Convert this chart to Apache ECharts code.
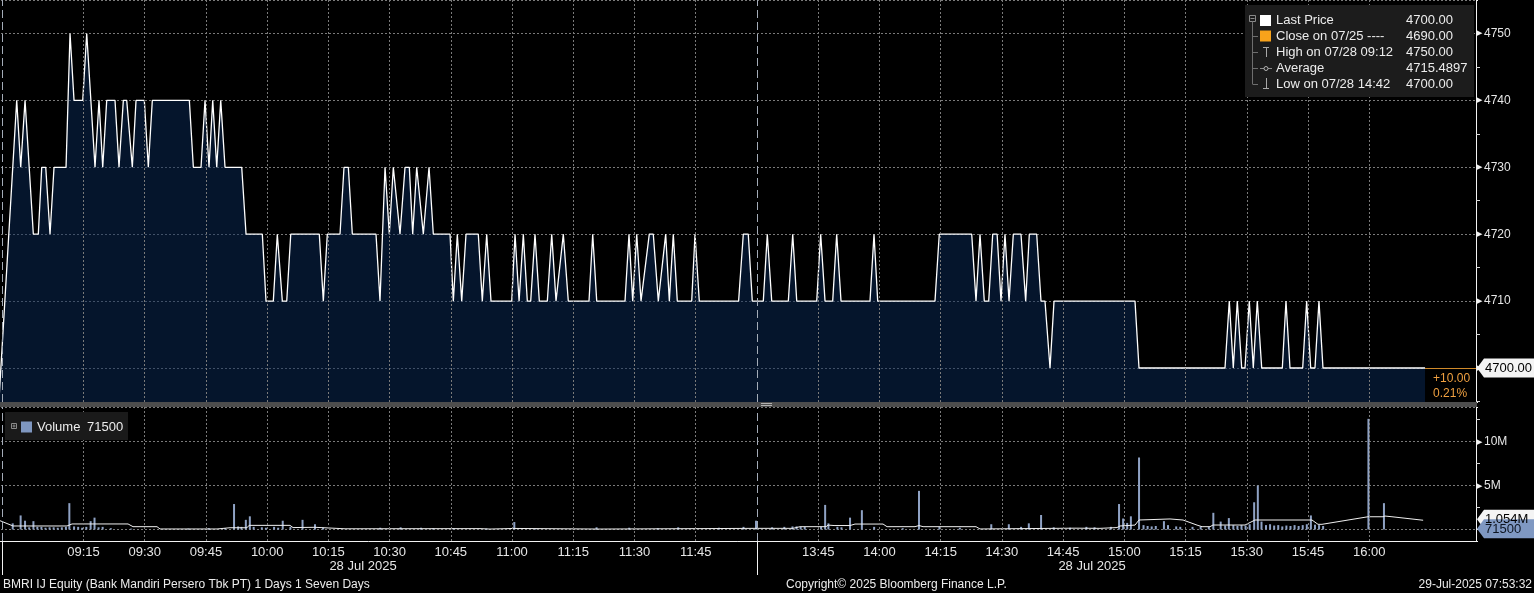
<!DOCTYPE html>
<html>
<head>
<meta charset="utf-8">
<script src="https://cdn.jsdelivr.net/npm/echarts@6/dist/echarts.min.js"></script>
<style>
html,body{margin:0;padding:0;background:#000;}
#c{width:1534px;height:593px;}
</style>
</head>
<body>
<div id="c"></div>
<script>
// ---------------- DATA ----------------
// x = session minutes: minutes after 09:00 in the morning session,
//     180 + minutes after 13:30 in the afternoon session (lunch break compressed)
const prevClose = 4690;
const lastPrice = [
  [-6.2,4690],[-1.35,4740],[-0.37,4730],[0.69,4740],[2.72,4720],[3.94,4720],[4.78,4730],[5.76,4730],
  [6.81,4720],[7.79,4730],[10.73,4730],[11.71,4750],[12.69,4740],[14.82,4740],[15.8,4750],[17.83,4730],
  [18.81,4740],[19.72,4730],[20.7,4740],[22.73,4740],[23.71,4730],[24.77,4740],[25.6,4740],[26.97,4730],
  [27.88,4740],[29.91,4740],[30.89,4730],[31.87,4740],[40.94,4740],[41.92,4730],[43.8,4730],[44.78,4740],
  [45.76,4730],[46.67,4740],[47.65,4730],[48.63,4740],[49.68,4730],[53.77,4730],[54.83,4720],[58.82,4720],
  [59.72,4710],[61.51,4710],[62.49,4720],[63.72,4710],[64.8,4710],[65.78,4720],[72.78,4720],[73.76,4710],
  [74.74,4720],[77.85,4720],[78.83,4730],[79.89,4730],[80.87,4720],[86.67,4720],[87.65,4710],[88.88,4730],
  [89.93,4720],[90.91,4730],[92.55,4720],[93.78,4730],[94.83,4730],[95.66,4720],[96.64,4730],[98.26,4720],
  [99.66,4730],[100.71,4720],[104.8,4720],[105.61,4710],[106.59,4720],[107.67,4710],[108.72,4720],[111.73,4720],
  [112.71,4710],[113.79,4720],[114.84,4710],[119.92,4710],[120.73,4720],[121.72,4710],[122.76,4720],[123.74,4710],
  [124.57,4710],[125.62,4720],[126.68,4710],[128.64,4710],[129.72,4720],[130.77,4710],[132.56,4720],[133.78,4710],
  [138.85,4710],[139.76,4720],[140.74,4710],[147.67,4710],[148.65,4720],[149.56,4710],[150.54,4720],[151.59,4710],
  [153.62,4720],[154.6,4720],[155.83,4710],[157.64,4720],[158.53,4710],[159.5,4720],[160.48,4710],[164.01,4710],
  [164.82,4720],[165.87,4710],[175.5,4710],[176.65,4720],[177.87,4720],[178.85,4710],[181.55,4710],[182.53,4720],
  [183.61,4710],[187.68,4710],[188.76,4720],[189.74,4710],[194.64,4710],[195.61,4720],[196.67,4710],[198.55,4710],
  [199.53,4720],[200.59,4710],[207.69,4710],[208.67,4720],[209.58,4710],[223.61,4710],[224.66,4720],[232.61,4720],
  [233.66,4710],[234.64,4720],[235.69,4710],[236.77,4710],[237.75,4720],[238.83,4720],[239.78,4710],[240.76,4720],
  [241.75,4710],[242.8,4720],[244.68,4720],[245.83,4710],[246.72,4720],[248.53,4720],[249.58,4710],[250.56,4710],
  [251.79,4700],[252.77,4710],[272.61,4710],[273.59,4700],[294.66,4700],[295.71,4710],[296.69,4700],[297.67,4710],
  [298.75,4700],[299.56,4700],[300.61,4710],[301.59,4700],[302.57,4710],[303.65,4700],[308.7,4700],[309.6,4710],
  [310.58,4700],[313.69,4700],[314.67,4710],[315.65,4700],[316.7,4700],[317.68,4710],[318.66,4700],[343.67,4700]
];
// volume per trade burst, millions of shares
const volume = [
  [-2.33,0.7],[-0.39,1.6],[0.69,1.0],[1.7,0.25],[2.74,0.95],[3.7,0.3],[4.7,0.3],[5.7,0.2],[6.7,0.25],[7.7,0.25],
  [8.7,0.2],[9.7,0.25],[10.7,0.3],[11.54,3.0],[12.7,0.35],[13.7,0.3],[14.7,0.2],[15.7,0.3],[16.76,0.95],[17.71,1.35],
  [18.7,0.25],[19.7,0.3],[21.7,0.15],[26.7,0.1],[40.7,0.1],[45.7,0.15],[49.7,0.15],[51.89,2.9],[52.9,0.35],[53.7,0.3],
  [54.78,1.1],[55.76,1.5],[56.7,0.3],[58.7,0.25],[59.7,0.2],[61.7,0.3],[62.7,0.2],[63.82,1.0],[65.7,0.3],[68.67,1.1],
  [71.73,0.6],[73.7,0.2],[87.7,0.2],[92.7,0.25],[97.7,0.2],[100.7,0.15],[105.7,0.15],[113.7,0.1],[120.55,0.85],[125.7,0.1],
  [140.7,0.25],[148.7,0.2],[155.7,0.15],[160.7,0.25],[170.7,0.2],[176.7,0.3],[179.76,1.0],
  [183.7,0.25],[186.7,0.3],[188.7,0.35],[189.7,0.35],[190.7,0.3],[191.7,0.3],[195.7,0.3],[196.7,2.8],[197.5,0.7],[199.7,0.3],
  [200.7,0.25],[202.8,1.35],[205.7,2.2],[208.7,0.3],[215.7,0.15],[219.7,4.4],[224.7,0.3],[229.7,0.2],[237.4,0.6],[241.7,0.6],
  [244.7,0.3],[246.6,0.7],[249.6,1.65],[252.7,0.25],[256.7,0.2],[260.7,0.3],[262.7,0.25],[266.7,0.3],[268.7,2.9],[269.7,1.25],
  [270.7,0.75],[271.6,1.5],[273.6,8.2],[274.7,0.5],[275.7,0.4],[276.7,0.35],[277.7,0.4],[279.7,0.95],[280.7,0.5],[282.7,0.35],
  [283.7,0.3],[286.7,0.3],[288.7,0.35],[290.7,0.3],[291.8,1.9],[293.6,0.9],[294.7,0.45],[295.6,1.3],[296.7,0.5],[297.7,0.4],
  [298.7,0.5],[299.7,0.45],[300.7,0.6],[301.8,3.1],[302.7,5.0],[303.6,0.9],[304.7,0.5],[305.7,0.6],[306.7,0.45],[307.7,0.5],
  [308.7,0.35],[309.7,0.45],[310.7,0.4],[311.7,0.5],[312.7,0.4],[313.7,0.5],[314.7,0.6],[315.7,1.6],[316.7,0.55],[317.7,0.5],
  [318.7,0.4],[329.8,12.6],[333.6,3.0],[343.67,0.0715]
];
// volume moving average, millions
const volumeAvg = [
  [-5.44,1.0],[-2.25,0.4],[10.97,0.4],[12.2,0.63],[25.92,0.63],[27.14,0.32],[33.02,0.32],[33.76,0.06],[47.72,0.06],
  [50.91,0.2],[55.07,0.2],[55.56,0.47],[65.6,0.47],[66.34,0.22],[71.73,0.25],[79.08,0.08],[112.15,0.1],[114.6,0.05],
  [120.47,0.12],[141.54,0.05],[166.04,0.1],[179.76,0.13],[188.83,0.13],[190.55,0.32],[196.92,0.32],[197.41,0.5],
  [198.88,0.45],[202.8,0.45],[204.02,0.62],[210.88,0.62],[211.86,0.32],[218.72,0.32],[219.7,0.45],[220.68,0.32],
  [233.66,0.32],[234.64,0.06],[257.91,0.15],[264.04,0.13],[268.2,0.22],[268.94,0.4],[272.61,0.5],[273.59,1.08],
  [281.19,1.2],[284.38,1.08],[287.81,0.5],[289.03,0.32],[290.99,0.32],[291.72,0.51],[299.56,0.51],[302.01,1.08],
  [315.97,1.08],[317.44,0.59],[318.42,0.59],[329.69,1.45],[333.37,1.45],[333.86,1.53],[335.57,1.45],[343.2,1.054]
];
const timeTicks = ['09:15','09:30','09:45','10:00','10:15','10:30','10:45','11:00','11:15','11:30','11:45',
                   '13:45','14:00','14:15','14:30','14:45','15:00','15:15','15:30','15:45','16:00'];
const sessionStarts = [-5, 180];
const legendLabels = ['Last Price','Close on 07/25 ----','High on 07/28 09:12','Average','Low on 07/28 14:42'];
const legendValues = ['4700.00','4690.00','4750.00','4715.4897','4700.00'];
const dateLabels = ['28 Jul 2025','28 Jul 2025'];

// ---------------- helpers ----------------
const FONT = '"Liberation Sans", Arial, sans-serif';
const X_MIN = -15, X_MAX = 356.15;
const P_MIN = 4694.92, P_MAX = 4755;
const V_MIN = -1.31, V_MAX = 13.95;
function toSession(hhmm) {
  const [h, m] = hhmm.split(':').map(Number);
  const t = h * 60 + m;
  return t <= 720 ? t - 540 : 180 + (t - 810);
}
function toClock(s) {
  const t = s < 180 ? 540 + s : 810 + (s - 180);
  const h = Math.floor(t / 60), m = Math.round(t - h * 60);
  return String(h).padStart(2, '0') + ':' + String(m).padStart(2, '0');
}
function xLabel(v) {
  const c = toClock(v);
  return timeTicks.indexOf(c) >= 0 && toSession(c) === v ? c : '';
}
const vGridLines = timeTicks.map(t => ({xAxis: toSession(t), lineStyle: {color: '#7a7a7a', type: [2, 2], width: 1}}))
  .concat(sessionStarts.map(s => ({xAxis: s, lineStyle: {color: '#a4acb8', type: [8, 4], width: 1}})));
const markGrid = {silent: true, symbol: ['none', 'none'], label: {show: false}, animation: false, data: vGridLines};

const rightAxisCommon = {
  type: 'value', position: 'right',
  axisLine: {show: true, onZero: false, lineStyle: {color: '#f2f2f2', width: 1}},
  axisTick: {show: true, length: 2, lineStyle: {color: '#f2f2f2'}},
  minorTick: {show: true, splitNumber: 2, length: 4, lineStyle: {color: '#d8d8d8'}},
  splitLine: {show: true, lineStyle: {color: '#7a7a7a', type: [2, 2], width: 1}},
};
const gridCommon = {left: -39, right: 58, containLabel: false, outerBoundsMode: 'none'};

const chart = echarts.init(document.getElementById('c'), null, {renderer: 'canvas'});
const option = {
  backgroundColor: '#000',
  animation: false,
  textStyle: {fontFamily: FONT},
  grid: [
    Object.assign({}, gridCommon, {top: 0, height: 402}),
    Object.assign({}, gridCommon, {top: 407, height: 134})
  ],
  xAxis: [
    {gridIndex: 0, type: 'value', min: X_MIN, max: X_MAX, interval: 15, show: false},
    {gridIndex: 1, type: 'value', min: X_MIN, max: X_MAX, interval: 15,
     axisLine: {show: true, onZero: false, lineStyle: {color: '#f2f2f2', width: 1}},
     axisTick: {show: false}, splitLine: {show: false},
     axisLabel: {color: '#e6e6e6', fontSize: 13, fontFamily: FONT, margin: 5, formatter: xLabel}}
  ],
  yAxis: [
    Object.assign({}, rightAxisCommon, {
      gridIndex: 0, min: P_MIN, max: P_MAX, splitNumber: 6,
      axisLabel: {showMinLabel: false, showMaxLabel: false, margin: 1, color: '#e6e6e6', fontSize: 12, fontFamily: FONT,
        formatter: v => '{a|▶}' + v, rich: {a: {fontSize: 7, color: '#f2f2f2', padding: [0, 2, 0, 0]}}}
    }),
    Object.assign({}, rightAxisCommon, {
      gridIndex: 1, min: V_MIN, max: V_MAX, splitNumber: 3,
      axisLabel: {showMinLabel: false, showMaxLabel: false, margin: 1, color: '#e6e6e6', fontSize: 12, fontFamily: FONT,
        formatter: v => v === 0 ? '' : '{a|▶}' + v + 'M', rich: {a: {fontSize: 7, color: '#f2f2f2', padding: [0, 2, 0, 0]}}}
    })
  ],
  series: [
    {name: 'grid-price', type: 'line', xAxisIndex: 0, yAxisIndex: 0, data: [], z: 1, markLine: markGrid},
    {name: 'Last Price', type: 'line', xAxisIndex: 0, yAxisIndex: 0, data: lastPrice, z: 3,
     showSymbol: false, symbol: 'none',
     lineStyle: {color: '#ffffff', width: 1.3},
     areaStyle: {color: 'rgba(9,41,86,0.72)', origin: 'start'}},
    {name: 'grid-vol', type: 'line', xAxisIndex: 1, yAxisIndex: 1, data: [], z: 1, markLine: markGrid},
    {name: 'Volume', type: 'bar', xAxisIndex: 1, yAxisIndex: 1, data: volume, barWidth: 2, z: 3,
     itemStyle: {color: '#8fa2c4'}},
    {name: 'Volume Avg', type: 'line', xAxisIndex: 1, yAxisIndex: 1, data: volumeAvg, z: 4,
     showSymbol: false, symbol: 'none', lineStyle: {color: '#f0f0f0', width: 1}}
  ]
};
chart.setOption(option);

// ---------------- overlays (positions from the chart's own scales) ----------------
function T(text, x, y, o) {
  return {type: 'text', x: x, y: y, z: 120,
    style: Object.assign({text: text, fill: '#ececec', font: '13px ' + FONT, textVerticalAlign: 'middle', textAlign: 'left'}, o || {})};
}
function L(x1, y1, x2, y2, color, z) {
  return {type: 'line', z: z || 120, shape: {x1: x1, y1: y1, x2: x2, y2: y2}, style: {stroke: color, lineWidth: 1}};
}
const G = [];
// separator band between panels
G.push({type: 'rect', z: 100, shape: {x: 0, y: 402, width: 1477, height: 5}, style: {fill: '#4d4d4d'}});
G.push(L(761, 403.5, 772, 403.5, '#b0b0b0', 101), L(761, 405.5, 772, 405.5, '#b0b0b0', 101));

// session separators continuing below the time axis
const axisBottom = chart.convertToPixel({yAxisIndex: 1}, V_MIN);
sessionStarts.forEach(s => {
  const x = Math.round(chart.convertToPixel({xAxisIndex: 1}, s)) + 0.5;
  G.push(L(x, axisBottom, x, axisBottom + 34, '#f2f2f2', 101));
});

// price legend
const lgX = 1245, lgY = 5;
G.push({type: 'rect', z: 110, shape: {x: lgX, y: lgY, width: 229, height: 92}, style: {fill: '#1c1c1c'}});
const rowY = [20.5, 36.3, 52.2, 68.1, 84];
G.push({type: 'rect', z: 115, shape: {x: 1249.5, y: 15.5, width: 6, height: 6}, style: {fill: 'none', stroke: '#8a8a8a', lineWidth: 1}});
G.push(L(1250.5, 18.5, 1254.5, 18.5, '#8a8a8a', 115));
G.push(L(1252.5, 21.5, 1252.5, rowY[4], '#6e6e6e', 115));
rowY.slice(1).forEach(y => G.push(L(1252.5, Math.round(y) + 0.5, 1258, Math.round(y) + 0.5, '#6e6e6e', 115)));
G.push({type: 'rect', z: 115, shape: {x: 1260, y: 15, width: 11, height: 11}, style: {fill: '#ffffff'}});
G.push({type: 'rect', z: 115, shape: {x: 1260, y: 30.5, width: 11, height: 11}, style: {fill: '#f7a21b'}});
G.push(L(1263, 47.5, 1269, 47.5, '#a8a8a8', 115), L(1266.5, 47, 1266.5, 57, '#a8a8a8', 115));
G.push(L(1260, 68.5, 1272, 68.5, '#8a8a8a', 115));
G.push({type: 'circle', z: 116, shape: {cx: 1266, cy: 68.5, r: 2}, style: {fill: '#1c1c1c', stroke: '#b0b0b0', lineWidth: 1}});
G.push(L(1266.5, 78, 1266.5, 89, '#a8a8a8', 115), L(1263, 88.5, 1269, 88.5, '#a8a8a8', 115));
legendLabels.forEach((t, i) => G.push(T(t, 1276, rowY[i])));
legendValues.forEach((t, i) => G.push(T(t, 1406, rowY[i])));

// volume legend
const lastVol = volume[volume.length - 1][1];
const volText = String(Math.round(lastVol * 1e6));
G.push({type: 'rect', z: 110, shape: {x: 5, y: 412, width: 123, height: 28}, style: {fill: '#1a1a1a'}});
G.push({type: 'rect', z: 115, shape: {x: 11.5, y: 423.5, width: 5, height: 5}, style: {fill: 'none', stroke: '#8a8a8a', lineWidth: 1}});
G.push(L(12.5, 426, 15.5, 426, '#8a8a8a', 116), L(14, 424.5, 14, 427.5, '#8a8a8a', 116));
G.push({type: 'rect', z: 115, shape: {x: 21, y: 421.5, width: 11, height: 11}, style: {fill: '#7f97c0'}});
G.push(T('Volume', 37, 427.5), T(volText, 87, 427.5));

// last price tag + change box
const xRight = chart.convertToPixel({xAxisIndex: 0}, X_MAX);
const lp = lastPrice[lastPrice.length - 1];
const endPt = chart.convertToPixel({gridIndex: 0}, lp);
const priceBottom = chart.convertToPixel({yAxisIndex: 0}, P_MIN);
const py = endPt[1];
const chg = lp[1] - prevClose;
G.push({type: 'rect', z: 105, shape: {x: endPt[0] + 0.5, y: py, width: xRight - endPt[0] - 0.5, height: priceBottom - py}, style: {fill: '#000'}});
G.push(L(endPt[0], Math.round(py) + 0.5, xRight, Math.round(py) + 0.5, '#d08a2a', 106));
G.push(T((chg >= 0 ? '+' : '') + chg.toFixed(2), endPt[0] + 8, py + 10.5, {fill: '#f0a040', font: '12px ' + FONT}));
G.push(T((chg / prevClose * 100).toFixed(2) + '%', endPt[0] + 8, py + 25.5, {fill: '#f0a040', font: '12px ' + FONT}));
function tag(y, fill, textFill, text) {
  G.push({type: 'polygon', z: 125, shape: {points: [[xRight + 1, y], [xRight + 8, y - 9.5], [xRight + 60, y - 9.5], [xRight + 60, y + 9.5], [xRight + 8, y + 9.5]]}, style: {fill: fill}});
  const t = T(text, xRight + 9, y + 0.5, {fill: textFill, font: '13px ' + FONT});
  t.z = 126;
  G.push(t);
}
tag(py, '#f4f4f4', '#000', lp[1].toFixed(2));

// volume tags
const lastAvg = volumeAvg[volumeAvg.length - 1][1];
tag(chart.convertToPixel({yAxisIndex: 1}, lastAvg) - 1, '#f4f4f4', '#000', lastAvg.toFixed(3) + 'M');
tag(chart.convertToPixel({yAxisIndex: 1}, lastVol), '#7f98c2', '#0d1522', volText);

// date labels under the time axis
G.push(T(dateLabels[0], 363, 566.5, {textAlign: 'center', fill: '#e6e6e6'}));
G.push(T(dateLabels[1], 1092, 566.5, {textAlign: 'center', fill: '#e6e6e6'}));

// footer
G.push(T('BMRI IJ Equity (Bank Mandiri Persero Tbk PT) 1 Days 1 Seven Days', 3, 584.5, {font: '12px ' + FONT}));
G.push(T('Copyright\u00a9 2025 Bloomberg Finance L.P.', 786, 584.5, {font: '12px ' + FONT}));
G.push(T('29-Jul-2025 07:53:32', 1532, 584.5, {font: '12px ' + FONT, textAlign: 'right'}));

chart.setOption({graphic: G});
</script>
</body>
</html>
